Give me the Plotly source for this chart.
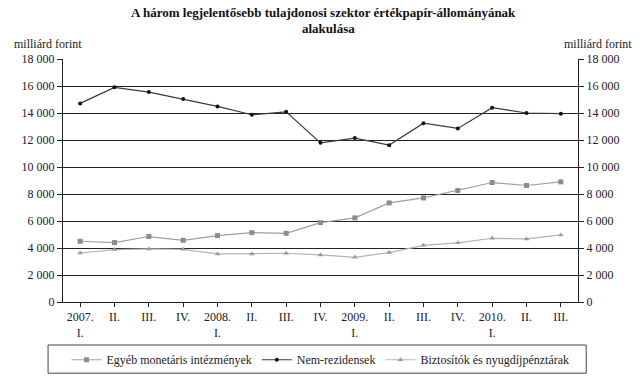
import plotly.graph_objects as go

categories = ["2007.<br>I.", "II.", "III.", "IV.", "2008.<br>I.", "II.", "III.", "IV.",
              "2009.<br>I.", "II.", "III.", "IV.", "2010.<br>I.", "II.", "III."]
egyeb = [4500, 4400, 4850, 4570, 4920, 5140, 5090, 5880, 6230, 7340, 7710, 8260, 8850, 8630, 8900]
nem_rez = [14710, 15900, 15550, 15030, 14490, 13870, 14090, 11790, 12140, 11620, 13250, 12860, 14390, 14000, 13950]
biztosito = [3630, 3880, 3930, 3900, 3560, 3560, 3610, 3490, 3310, 3660, 4200, 4380, 4720, 4670, 4970]
y_ticks = [0, 2000, 4000, 6000, 8000, 10000, 12000, 14000, 16000, 18000]
y_ticktext = ["0", "2 000", "4 000", "6 000", "8 000", "10 000", "12 000", "14 000", "16 000", "18 000"]

x = list(range(len(categories)))
font_family = "Liberation Serif"

fig = go.Figure()
fig.add_trace(go.Scatter(x=x, y=egyeb, name="Egyéb monetáris intézmények", mode="lines+markers",
                         line=dict(color="#a0a0a0", width=1.2),
                         marker=dict(symbol="square", size=5, color="#8c8c8c")))
fig.add_trace(go.Scatter(x=x, y=nem_rez, name="Nem-rezidensek", mode="lines+markers",
                         line=dict(color="#3a3a3a", width=1.2),
                         marker=dict(symbol="circle", size=4, color="#111111")))
fig.add_trace(go.Scatter(x=x, y=biztosito, name="Biztosítók és nyugdíjpénztárak", mode="lines+markers",
                         line=dict(color="#b4b4b4", width=1.2),
                         marker=dict(symbol="triangle-up", size=5, color="#9a9a9a")))
# invisible trace for right axis
fig.add_trace(go.Scatter(x=[0], y=[0], yaxis="y2", showlegend=False, hoverinfo="skip",
                         mode="markers", marker=dict(opacity=0)))

fig.update_layout(
    width=640, height=382,
    margin=dict(l=63, r=62, t=59, b=80, autoexpand=False),
    paper_bgcolor="white", plot_bgcolor="white",
    font=dict(family=font_family, size=12, color="#222"),
    xaxis=dict(tickmode="array", tickvals=x, ticktext=categories, range=[-0.5, 14.5],
               showline=True, linecolor="#222", linewidth=1, ticks="outside", ticklen=4,
               tickcolor="#222", tickson="boundaries", showgrid=False, zeroline=False,
               tickfont=dict(size=12)),
    yaxis=dict(range=[0, 18000], tickvals=y_ticks, ticktext=y_ticktext, showline=True,
               linecolor="#222", linewidth=1, ticks="outside", ticklen=5, tickcolor="#222",
               showgrid=True, gridcolor="#222", gridwidth=1, zeroline=False,
               tickfont=dict(size=12)),
    yaxis2=dict(range=[0, 18000], tickvals=y_ticks, ticktext=y_ticktext, overlaying="y",
                side="right", showline=True, linecolor="#222", linewidth=1, ticks="outside",
                ticklen=5, tickcolor="#222", showgrid=False, zeroline=False,
                tickfont=dict(size=12)),
    legend=dict(orientation="h", x=0.5, xanchor="center", y=-0.178, yanchor="top",
                bgcolor="rgba(0,0,0,0)", font=dict(size=12), itemwidth=30,
                tracegroupgap=0),
    showlegend=True,
)

fig.add_shape(type="rect", xref="paper", yref="paper", x0=-0.029, x1=1.016, y0=-0.293, y1=-0.177,
              line=dict(color="#444", width=1), fillcolor="rgba(0,0,0,0)")
fig.add_annotation(text="<b>A három legjelentősebb tulajdonosi szektor értékpapír-állományának</b>",
                   xref="paper", yref="paper", x=0.505, y=1.19, xanchor="center", yanchor="middle",
                   showarrow=False, font=dict(size=13, color="#111"))
fig.add_annotation(text="<b>alakulása</b>",
                   xref="paper", yref="paper", x=0.515, y=1.125, xanchor="center", yanchor="middle",
                   showarrow=False, font=dict(size=13, color="#111"))
fig.add_annotation(text="milliárd forint", xref="paper", yref="paper", x=-0.099, y=1.062,
                   xanchor="left", yanchor="middle", showarrow=False, font=dict(size=12))
fig.add_annotation(text="milliárd forint", xref="paper", yref="paper", x=1.109, y=1.062,
                   xanchor="right", yanchor="middle", showarrow=False, font=dict(size=12))

fig.write_html("out.html", config={"displayModeBar": False},
               post_script="document.body.style.margin='0';")
